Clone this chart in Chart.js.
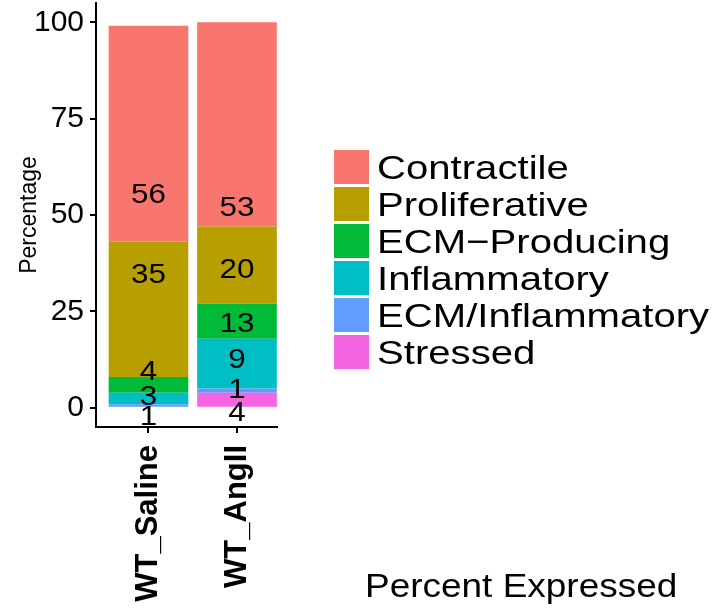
<!DOCTYPE html>
<html>
<head>
<meta charset="utf-8">
<script src="https://cdn.jsdelivr.net/npm/chart.js@4.4.1/dist/chart.umd.min.js"></script>
<style>
body { margin: 0; background: #fff; }
</style>
</head>
<body>
<canvas id="c" width="716" height="610"></canvas>
<script>
// groups on the x axis
var groups = ["WT_Saline", "WT_AngII"];
// clusters, stacked from the bottom up
var clusters = ["Stressed", "ECM/Inflammatory", "Inflammatory", "ECM\u2212Producing", "Proliferative", "Contractile"];
var colors = ["#F564E3", "#619CFF", "#00BFC4", "#00BA38", "#B79F00", "#F8766D"];

// percentage of each cluster, one value per group
var stressed = [0, 3.9];
var ecmInflam = [0.9, 1.1];
var inflam = [3.0, 12.9];
var ecmProd = [4.1, 9.1];
var prolif = [35.1, 20.0];
var contractile = [56.0, 53.0];

// numbers printed on the bars and the height where they sit
var salineLabels = ["1", "3", "4", "35", "56"];
var salineLabelY = [-1.9, 3.3, 9.7, 34.9, 55.6];
var angLabels = ["4", "1", "9", "13", "20", "53"];
var angLabelY = [-0.9, 5.2, 12.9, 22.2, 36.2, 52.4];

var yTicks = [0, 25, 50, 75, 100];

var series = [stressed, ecmInflam, inflam, ecmProd, prolif, contractile];
var datasets = [];
for (var i = 0; i < series.length; i++) {
  datasets.push({
    label: clusters[i],
    data: series[i].map(function (v, j) { return { x: j + 1, y: v }; }),
    backgroundColor: colors[i],
    borderWidth: 0,
    barPercentage: 0.9,
    categoryPercentage: 1
  });
}

var font = '"Liberation Sans", Arial, Helvetica, sans-serif';

// text stretched a little sideways, like the original
function wideText(ctx, txt, x, y, sx) {
  ctx.save();
  ctx.translate(x, y);
  ctx.scale(sx, 1);
  ctx.fillText(txt, 0, 0);
  ctx.restore();
}

// numbers on bars, legend and the lonely "Percent Expressed" title
var extras = {
  id: 'extras',
  afterDatasetsDraw: function (chart) {
    var ctx = chart.ctx, xs = chart.scales.x, ys = chart.scales.y;
    ctx.save();
    ctx.fillStyle = '#000';
    ctx.font = '28px ' + font;
    ctx.textAlign = 'center';
    var lists = [[salineLabels, salineLabelY], [angLabels, angLabelY]];
    for (var g = 0; g < lists.length; g++) {
      var x = xs.getPixelForValue(g + 1);
      for (var k = 0; k < lists[g][0].length; k++) {
        wideText(ctx, lists[g][0][k], x, ys.getPixelForValue(lists[g][1][k]) + 10, 1.12);
      }
    }
    ctx.restore();
  },
  afterDraw: function (chart) {
    var ctx = chart.ctx;
    ctx.save();
    ctx.font = '34px ' + font;
    ctx.textAlign = 'left';
    var n = chart.data.datasets.length;
    for (var r = 0; r < n; r++) {
      var ds = chart.data.datasets[n - 1 - r];
      var top = 150 + r * 37;
      ctx.fillStyle = ds.backgroundColor;
      ctx.fillRect(334, top, 35, 34);
      ctx.fillStyle = '#000';
      wideText(ctx, ds.label, 377, top + 29, 1.18);
    }
    ctx.font = '33px ' + font;
    wideText(ctx, 'Percent Expressed', 365, 597, 1.12);
    ctx.restore();
  }
};

new Chart(document.getElementById('c'), {
  type: 'bar',
  data: { datasets: datasets },
  plugins: [extras],
  options: {
    responsive: false,
    animation: false,
    layout: { padding: { top: 3, right: 439, left: 0, bottom: 0 } },
    plugins: { legend: { display: false }, tooltip: { enabled: false } },
    scales: {
      x: {
        type: 'linear',
        stacked: true,
        offset: false,
        min: 0.407,
        max: 2.452,
        afterBuildTicks: function (s) { s.ticks = [{ value: 1 }, { value: 2 }]; },
        afterFit: function (s) { s.height = 183; s.paddingLeft = 0; s.paddingRight = 0; },
        ticks: {
          autoSkip: false,
          minRotation: 90,
          maxRotation: 90,
          padding: 12,
          color: '#000',
          font: { family: font, size: 31, weight: 'bold' },
          callback: function (v) { return groups[v - 1]; }
        },
        grid: { offset: false, drawOnChartArea: false, tickLength: 6, color: '#000', lineWidth: 2 },
        border: { color: '#000', width: 2 }
      },
      y: {
        stacked: true,
        min: -5,
        max: 105,
        afterBuildTicks: function (s) { s.ticks = yTicks.map(function (v) { return { value: v }; }); },
        afterFit: function (s) { s.width = 96; s.paddingTop = 0; s.paddingBottom = 0; },
        ticks: { padding: 6, color: '#000', font: { family: font, size: 30 } },
        grid: { drawOnChartArea: false, tickLength: 6, color: '#000', lineWidth: 2 },
        border: { color: '#000', width: 2 },
        title: { display: true, text: 'Percentage', color: '#000', font: { family: font, size: 23 }, padding: { top: 16 } }
      }
    }
  }
});
</script>
</body>
</html>
